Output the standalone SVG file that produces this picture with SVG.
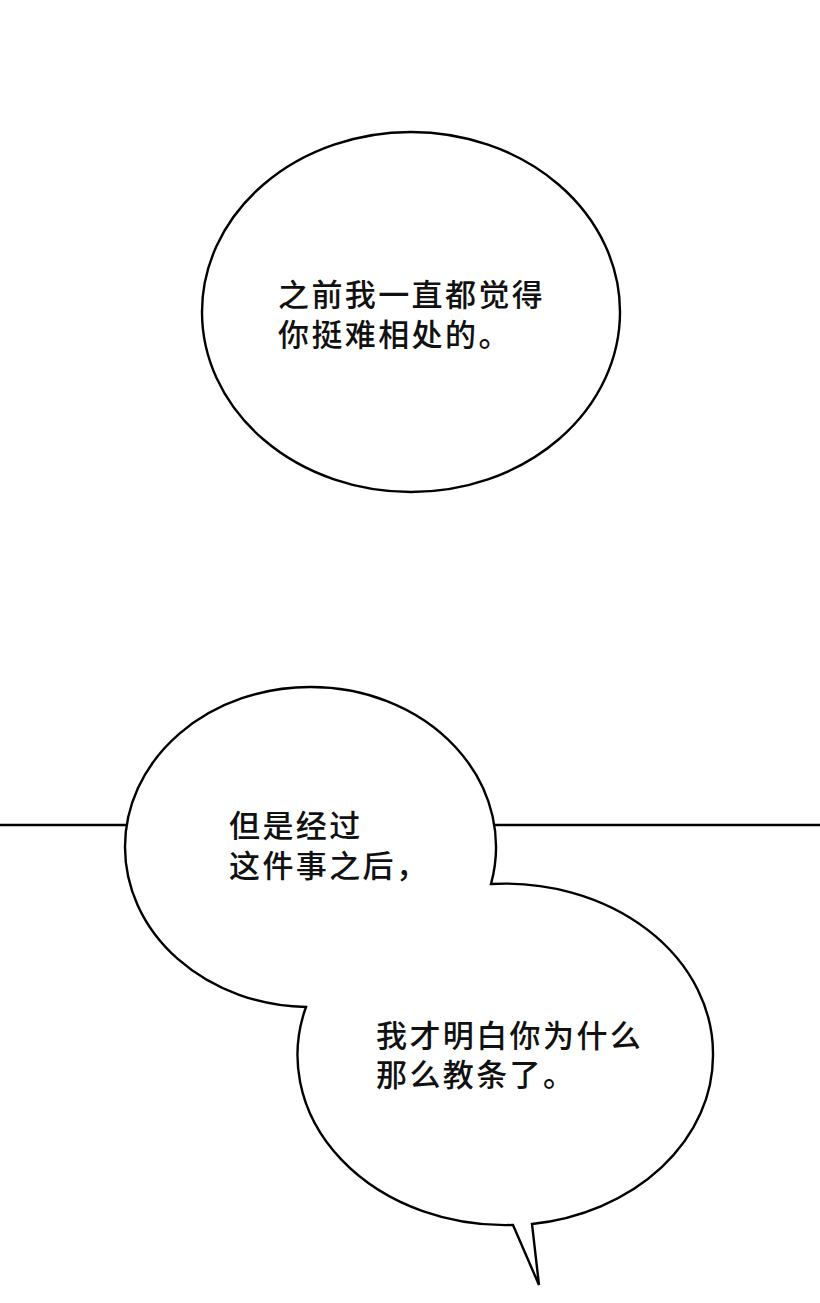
<svg xmlns="http://www.w3.org/2000/svg" width="820" height="1303" viewBox="0 0 820 1303">
<style>
.bub{fill:#fff;stroke:#000;stroke-width:2.4;stroke-linejoin:miter}
.txt{font-family:"Liberation Sans","Noto Sans CJK SC",sans-serif;font-size:31px;font-weight:500;letter-spacing:2.4px;fill:#111}
.rule{stroke:#000;stroke-width:2.4}
</style>
<rect width="820" height="1303" fill="#fff"/>
<g id="panel-line">
<line class="rule" x1="0" y1="825" x2="820" y2="825"/>
</g>
<g id="bubble-top">
<ellipse class="bub" cx="411" cy="312" rx="209" ry="180"/>
<text class="txt"><tspan x="278" y="306">之前我一直都觉得</tspan><tspan x="278" y="346">你挺难相处的。</tspan></text>
</g>
<g id="bubble-bottom">
<path class="bub" d="M 491 884 A 185 160 0 0 0 310 687 A 185 160 0 0 0 125 847 A 185 160 0 0 0 306 1007 A 208 170 0 0 0 513 1225 L 539 1285 L 532 1224 A 208 170 0 0 0 713 1055 A 208 170 0 0 0 491 884 Z"/>
<text class="txt"><tspan x="229" y="837">但是经过</tspan><tspan x="229" y="877">这件事之后，</tspan></text>
<text class="txt"><tspan x="376" y="1047">我才明白你为什么</tspan><tspan x="376" y="1086">那么教条了。</tspan></text>
</g>
</svg>
